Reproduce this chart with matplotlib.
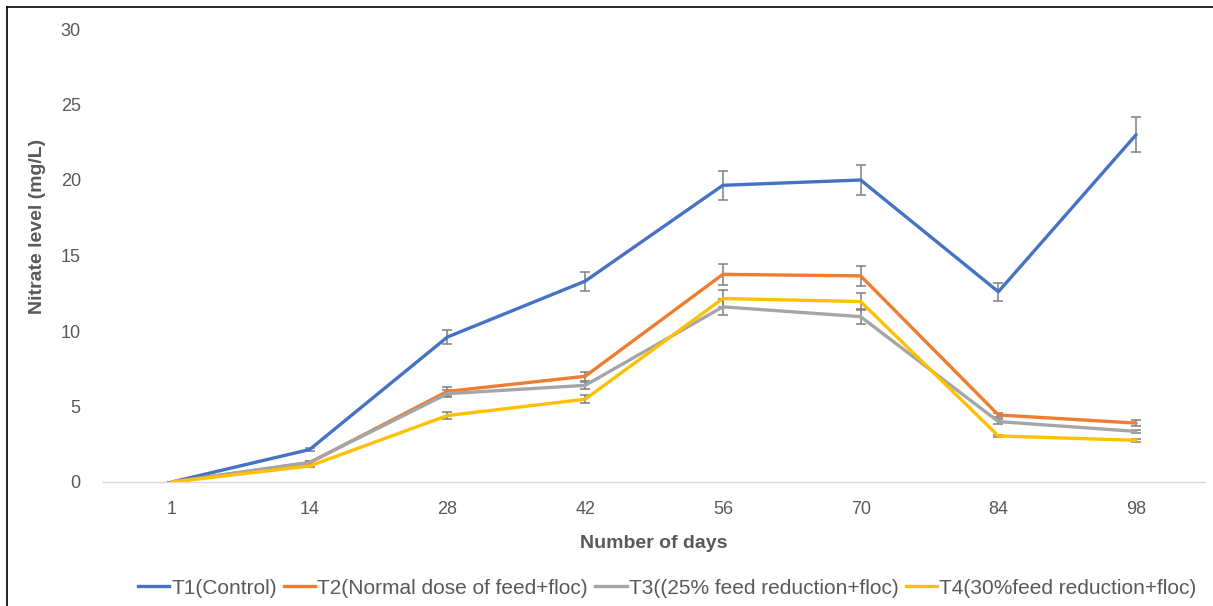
import matplotlib.pyplot as plt
from matplotlib.lines import Line2D
import numpy as np

plt.rcParams['font.family'] = ['Liberation Sans', 'DejaVu Sans']

# data
days = ['1', '14', '28', '42', '56', '70', '84', '98']
labels = ['T1(Control)', 'T2(Normal dose of feed+floc)',
          'T3((25% feed reduction+floc)', 'T4(30%feed reduction+floc)']
t1 = [0, 2.15, 9.6, 13.3, 19.65, 20.0, 12.6, 23.0]
t1_err = [0, 0.1, 0.46, 0.64, 0.97, 1.0, 0.6, 1.15]
t2 = [0, 1.28, 6.0, 7.0, 13.75, 13.65, 4.44, 3.9]
t2_err = [0, 0.08, 0.3, 0.3, 0.68, 0.67, 0.15, 0.18]
t3 = [0, 1.3, 5.85, 6.4, 11.6, 10.95, 4.0, 3.35]
t3_err = [0, 0.08, 0.25, 0.22, 0.55, 0.5, 0.15, 0.12]
t4 = [0, 1.06, 4.4, 5.48, 12.15, 11.95, 3.05, 2.76]
t4_err = [0, 0.06, 0.23, 0.25, 0.57, 0.58, 0.08, 0.1]
colours = ['#4472C4', '#ED7D31', '#A5A5A5', '#FFC000']

fig = plt.figure(figsize=(12.13, 6.06), dpi=100)
ax = fig.add_axes([103 / 1213, 1 - 482 / 606, 1102 / 1213, 453 / 606])

x = np.arange(len(days))
series = [(t1, t1_err), (t2, t2_err), (t3, t3_err), (t4, t4_err)]
for (vals, err), c, lab in zip(series, colours, labels):
    ax.errorbar(x, vals, yerr=err, color=c, lw=2.4, ecolor='#7F7F7F',
                elinewidth=1.1, capsize=3.5, capthick=1.1, label=lab,
                solid_capstyle='round', solid_joinstyle='round')

ax.set_xlim(-0.5, len(days) - 0.5)
ax.set_ylim(0, 30)
ax.set_yticks(range(0, 31, 5))
ax.set_xticks(x)
ax.set_xticklabels(days)
ax.tick_params(length=0, labelsize=13, colors='#595959')
ax.tick_params(axis='x', pad=14)
ax.tick_params(axis='y', pad=16)
for s in ['top', 'right', 'left']:
    ax.spines[s].set_visible(False)
ax.spines['bottom'].set_color('#D9D9D9')
ax.spines['bottom'].set_linewidth(1)

fig.text(0.5 * (103 + 1205) / 1213, 1 - 544 / 606, 'Number of days',
         ha='center', va='center', fontsize=14, fontweight='bold', color='#595959')
fig.text(38 / 1213, 1 - 226 / 606, 'Nitrate level (mg/L)', rotation=90,
         ha='center', va='center', fontsize=14, fontweight='bold', color='#595959')

handles = [Line2D([0], [0], color=c, lw=2.4) for c in colours]
fig.legend(handles, labels, loc='center', bbox_to_anchor=(667 / 1213, 1 - 588 / 606),
           ncol=4, frameon=False, fontsize=15, handlelength=1.5, handletextpad=0.1,
           columnspacing=0.35, labelcolor='#595959')

# outer frame of the original picture
fig.add_artist(Line2D([7 / 1213, 7 / 1213], [0, 1 - 7 / 606], color='black', lw=1.2))
fig.add_artist(Line2D([7 / 1213, 1], [1 - 7 / 606, 1 - 7 / 606], color='black', lw=1.2))

fig.savefig('out.png', dpi=100)
